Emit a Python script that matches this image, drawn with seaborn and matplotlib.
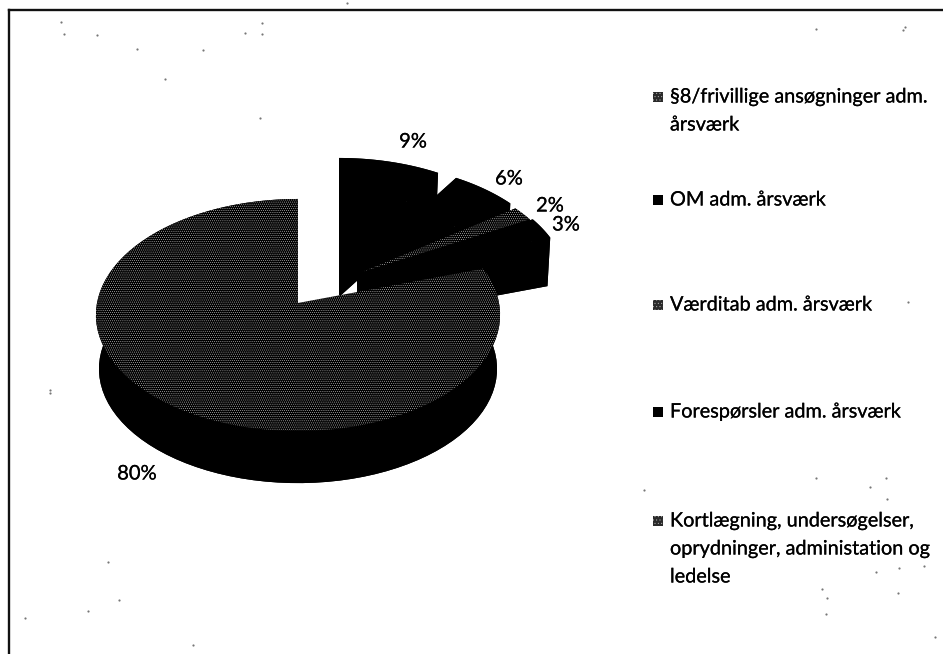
import numpy as np
import matplotlib
matplotlib.use('Agg')
import matplotlib.pyplot as plt
import matplotlib.patheffects as pe
import seaborn as sns

# chart values
labels = ['§8/frivillige ansøgninger adm.\nårsværk', 'OM adm. årsværk', 'Værditab adm. årsværk',
          'Forespørsler adm. årsværk', 'Kortlægning, undersøgelser,\noprydninger, administation og\nledelse']
values = [9, 6, 2, 3, 80]
stippled = [False, False, True, False, True]
legend_stippled = [True, False, True, False, True]

# layout in picture pixels
W, H = 943, 654
CX, CY = 298, 303
RX, RY, PERSP = 201, 114.8, 0.1034
shift_xy = [(41, -41), (59, -36), (64, -31), (67, -31), (0, 0)]
depths = [35, 48, 48, 48, 54]
pct_xy = [(413, 142), (509, 179), (550, 206), (566, 225), (137, 474)]
legend_y = [97, 200, 305, 412, 521]
LINE_GAP = 28
specks = [(61, 22), (64, 34), (97, 35), (137, 49), (203, 50), (245, 33), (262, 23), (262, 34), (165, 79),
          (260, 118), (816, 29), (119, 600), (108, 562), (88, 611), (25, 618), (193, 645), (876, 572),
          (899, 568), (924, 566), (822, 589), (827, 598), (826, 614), (898, 593), (935, 637), (644, 490),
          (816, 478), (886, 478), (870, 487), (887, 499), (908, 302), (50, 393), (50, 390), (905, 27),
          (903, 30), (347, 3)]


def project(theta, dx, dy, scale=1.0):
    """Circle point to screen, with the slight perspective of the tilted pie."""
    u, v = np.sin(theta), np.cos(theta)
    w = 1 + PERSP * v
    return CX + dx + scale * RX * u / w, CY + dy - scale * RY * v / w


def draw_slice(ax, start, end, shift, depth, textured):
    theta = np.radians(np.linspace(start, end, 90))
    x, y = project(theta, *shift)
    xb, yb = project(theta, shift[0], shift[1] + depth, 0.985)
    ax_x, ax_y = CX + shift[0], CY + shift[1]
    # side wall, cut faces and underside all read as solid black
    ax.fill(np.r_[x, xb[::-1]], np.r_[y, yb[::-1]], color='black', lw=0, zorder=2)
    ax.fill(np.r_[ax_x, xb], np.r_[ax_y + depth, yb], color='black', lw=0, zorder=2)
    for px, py, pxb, pyb in [(x[0], y[0], xb[0], yb[0]), (x[-1], y[-1], xb[-1], yb[-1])]:
        if end - start < 100:
            ax.fill([ax_x, px, pxb, ax_x], [ax_y, py, pyb, ax_y + depth], color='black', lw=0, zorder=2)
    top_x, top_y = np.r_[ax_x, x], np.r_[ax_y, y]
    if textured:
        ax.fill(top_x, top_y, facecolor='black', edgecolor='#dddddd', hatch='.' * 8, lw=0, zorder=2)
    else:
        ax.fill(top_x, top_y, color='black', lw=0, zorder=2)


sns.set_theme(style='white')
plt.rcParams['font.family'] = ['Lato', 'DejaVu Sans']
plt.rcParams['hatch.linewidth'] = 0.3

fig = plt.figure(figsize=(W / 100, H / 100), dpi=100)
ax = fig.add_axes([9 / W, 0, (W - 9) / W, (H - 10) / H])
ax.set_xlim(9, W)
ax.set_ylim(H, 10)
ax.set_xticks([])
ax.set_yticks([])
for side in ['right', 'bottom']:
    ax.spines[side].set_visible(False)
for side in ['left', 'top']:
    ax.spines[side].set_linewidth(1.7)
    ax.spines[side].set_color('#111111')

# clockwise from 12 o'clock, exploded slices first so the big one sits on top
edges = np.r_[0, np.cumsum(values)] * 3.6
for i in range(len(values)):
    draw_slice(ax, edges[i], edges[i + 1], shift_xy[i], depths[i], stippled[i])

# the scan thickens the type a little
thick = [pe.withStroke(linewidth=0.15, foreground='black')]
for value, (x, y) in zip(values, pct_xy):
    ax.text(x, y, f'{value}%', ha='center', va='center', fontsize=14.5, color='black', zorder=3, path_effects=thick)

for label, y, textured in zip(labels, legend_y, legend_stippled):
    if textured:
        ax.scatter([658], [y], marker='s', s=56, facecolor='#2a2a2a', edgecolor='#bbbbbb', hatch='.' * 5,
                   linewidths=0, zorder=3)
    else:
        ax.scatter([658], [y], marker='s', s=56, color='black', linewidths=0, zorder=3)
    for j, line in enumerate(label.split('\n')):
        ax.text(670, y + j * LINE_GAP, line, ha='left', va='center', fontsize=14.3, color='black', zorder=3,
                path_effects=thick)

speck_x, speck_y = zip(*specks)
sns.scatterplot(x=list(speck_x), y=list(speck_y), ax=ax, color='#777777', s=2.5, linewidth=0, legend=False, clip_on=False)
ax.set_xlim(9, W)
ax.set_ylim(H, 10)

fig.savefig('out.png', dpi=100)
